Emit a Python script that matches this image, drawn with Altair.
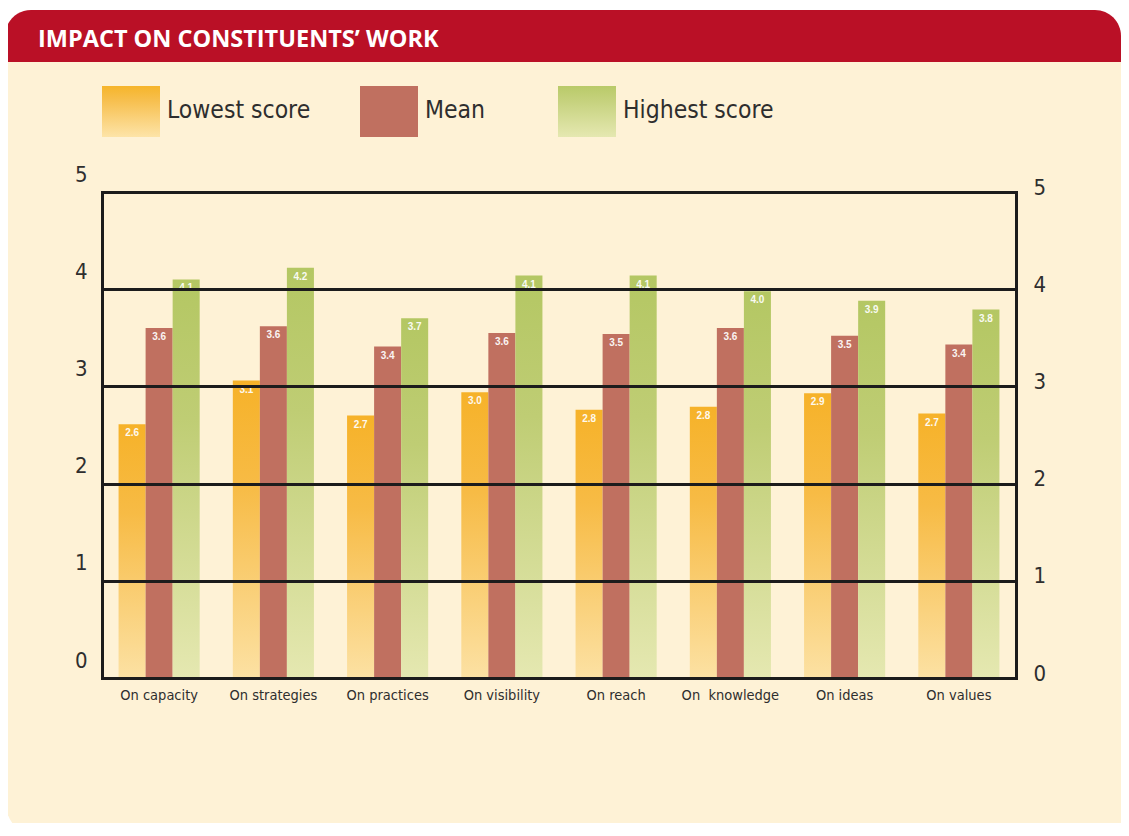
import altair as alt
import pandas as pd

# ---------------- data ----------------
categories = ["On capacity", "On strategies", "On practices", "On visibility",
              "On reach", "On\u00a0 knowledge", "On ideas", "On values"]
series = ["Lowest score", "Mean", "Highest score"]
lowest = [2.61, 3.06, 2.70, 2.94, 2.76, 2.79, 2.93, 2.72]
mean = [3.60, 3.62, 3.41, 3.55, 3.54, 3.60, 3.52, 3.43]
highest = [4.10, 4.22, 3.70, 4.14, 4.14, 3.98, 3.88, 3.79]
lowest_labels = ["2.6", "3.1", "2.7", "3.0", "2.8", "2.8", "2.9", "2.7"]
mean_labels = ["3.6", "3.6", "3.4", "3.6", "3.5", "3.6", "3.5", "3.4"]
highest_labels = ["4.1", "4.2", "3.7", "4.1", "4.1", "4.0", "3.9", "3.8"]
y_ticks = [0, 1, 2, 3, 4, 5]
title_text = "IMPACT ON CONSTITUENTS\u2019 WORK"

rows = []
for vals, labs, s in [(lowest, lowest_labels, series[0]),
                      (mean, mean_labels, series[1]),
                      (highest, highest_labels, series[2])]:
    for c, v, l in zip(categories, vals, labs):
        rows.append({"category": c, "series": s, "value": v, "label": l})
df = pd.DataFrame(rows)
one = pd.DataFrame({"k": [0]})

# ---------------- style ----------------
CREAM = "#FEF2D6"
RED = "#BA1026"
INK = "#1C1C1C"
TXT = "#2E2E2E"
NARROW = "'Liberation Sans Narrow', 'Arial Narrow', 'DejaVu Sans Condensed', sans-serif"


def grad(top, mid, bottom, midpos=0.35):
    return {"gradient": "linear", "x1": 0, "y1": 0, "x2": 0, "y2": 1,
            "stops": [{"offset": 0, "color": top},
                      {"offset": midpos, "color": mid},
                      {"offset": 1, "color": bottom}]}


G_LOW = grad("#F6B229", "#F7BB45", "#FCE1A3")
G_MEAN = "#C07060"
G_HIGH = grad("#B4C763", "#BFCD74", "#E5E8B1")
G_LOW_LEG = grad("#F6B52B", "#F7C050", "#FDE4A8", 0.3)
G_HIGH_LEG = grad("#B9CA69", "#C6D27E", "#E5E8B1", 0.3)

W, H = 914, 486

# ---------------- decoration ----------------
card = alt.Chart(one).mark_rect(color=CREAM, cornerRadiusBottomLeft=40).encode(
    x=alt.value(-97), x2=alt.value(1019), y=alt.value(-140), y2=alt.value(648))
header = alt.Chart(one).mark_rect(color=RED, cornerRadiusTopLeft=40,
                                  cornerRadiusTopRight=26).encode(
    x=alt.value(-97), x2=alt.value(1019), y=alt.value(-182), y2=alt.value(-130))
title = alt.Chart(one).mark_text(text=title_text, font="Open Sans", fontWeight="bold",
                                 fontSize=23.5, color="#FFFFFF", align="left",
                                 baseline="alphabetic").encode(
    x=alt.value(-64), y=alt.value(-145))

leg_layers = []
for i, (name, fill) in enumerate(zip(series, [G_LOW_LEG, G_MEAN, G_HIGH_LEG])):
    x0 = [0, 258, 456][i]
    leg_layers.append(alt.Chart(one).mark_rect(color=fill).encode(
        x=alt.value(x0), x2=alt.value(x0 + 58), y=alt.value(-106), y2=alt.value(-55)))
    leg_layers.append(alt.Chart(one).mark_text(text=name, font=NARROW, fontSize=24.5,
                                               color=TXT, align="left",
                                               baseline="middle").encode(
        x=alt.value(x0 + 65), y=alt.value(-81)))

# ---------------- data marks ----------------
xscale = alt.Scale(domain=categories, paddingInner=0.29, paddingOuter=0.145)
yscale = alt.Scale(domain=[0, 5], nice=False, zero=True)
xoff = alt.XOffset("series:N", scale=alt.Scale(domain=series))

x_axis = alt.Axis(title=None, labelAngle=0, ticks=False, labelFont=NARROW,
                  labelFontSize=14.5, labelColor=TXT, labelPadding=10,
                  domainColor=INK, domainWidth=3, domainCap="square", zindex=1)
left_axis = alt.Axis(title=None, orient="left", values=y_ticks, ticks=False,
                     labelFont=NARROW, labelFontSize=22, labelColor=TXT,
                     labelPadding=15, labelOffset=-18, grid=True, gridColor=INK,
                     gridWidth=3, gridOpacity=1, domainColor=INK, domainWidth=3,
                     domainCap="square", zindex=1)
right_axis = alt.Axis(title=None, orient="right", values=y_ticks, ticks=False,
                      labelFont=NARROW, labelFontSize=22, labelColor=TXT,
                      labelPadding=17, labelOffset=-5, labelAlign="left", grid=False,
                      domainColor=INK, domainWidth=3, domainCap="square", zindex=1)

bar_layers = []
for i, (name, fill) in enumerate(zip(series, [G_LOW, G_MEAN, G_HIGH])):
    bar_layers.append(
        alt.Chart(df).transform_filter(alt.datum.series == name)
        .mark_bar(color=fill)
        .encode(
            x=alt.X("category:N", scale=xscale, sort=categories,
                    axis=x_axis if i == 0 else None),
            xOffset=xoff,
            y=alt.Y("value:Q", scale=yscale, axis=left_axis if i == 0 else None),
        )
    )

labels = alt.Chart(df).mark_text(font="Liberation Sans", fontWeight="bold",
                                 fontSize=10, color="#FFFFFF", opacity=0.92,
                                 baseline="middle", dy=9).encode(
    x=alt.X("category:N", scale=xscale, sort=categories, axis=None),
    xOffset=xoff,
    y=alt.Y("value:Q", scale=yscale, axis=right_axis),
    text="label:N",
)

chart = alt.layer(card, header, title, *leg_layers, *bar_layers, labels).resolve_axis(
    x="independent", y="independent"
).properties(
    width=W, height=H,
    autosize=alt.AutoSizeParams(type="none"),
    padding={"left": 94, "top": 184, "right": 105, "bottom": 145},
).configure(background="#FFFFFF").configure_view(stroke=None)

chart.save("out.html", embed_options={"renderer": "svg", "actions": False})
